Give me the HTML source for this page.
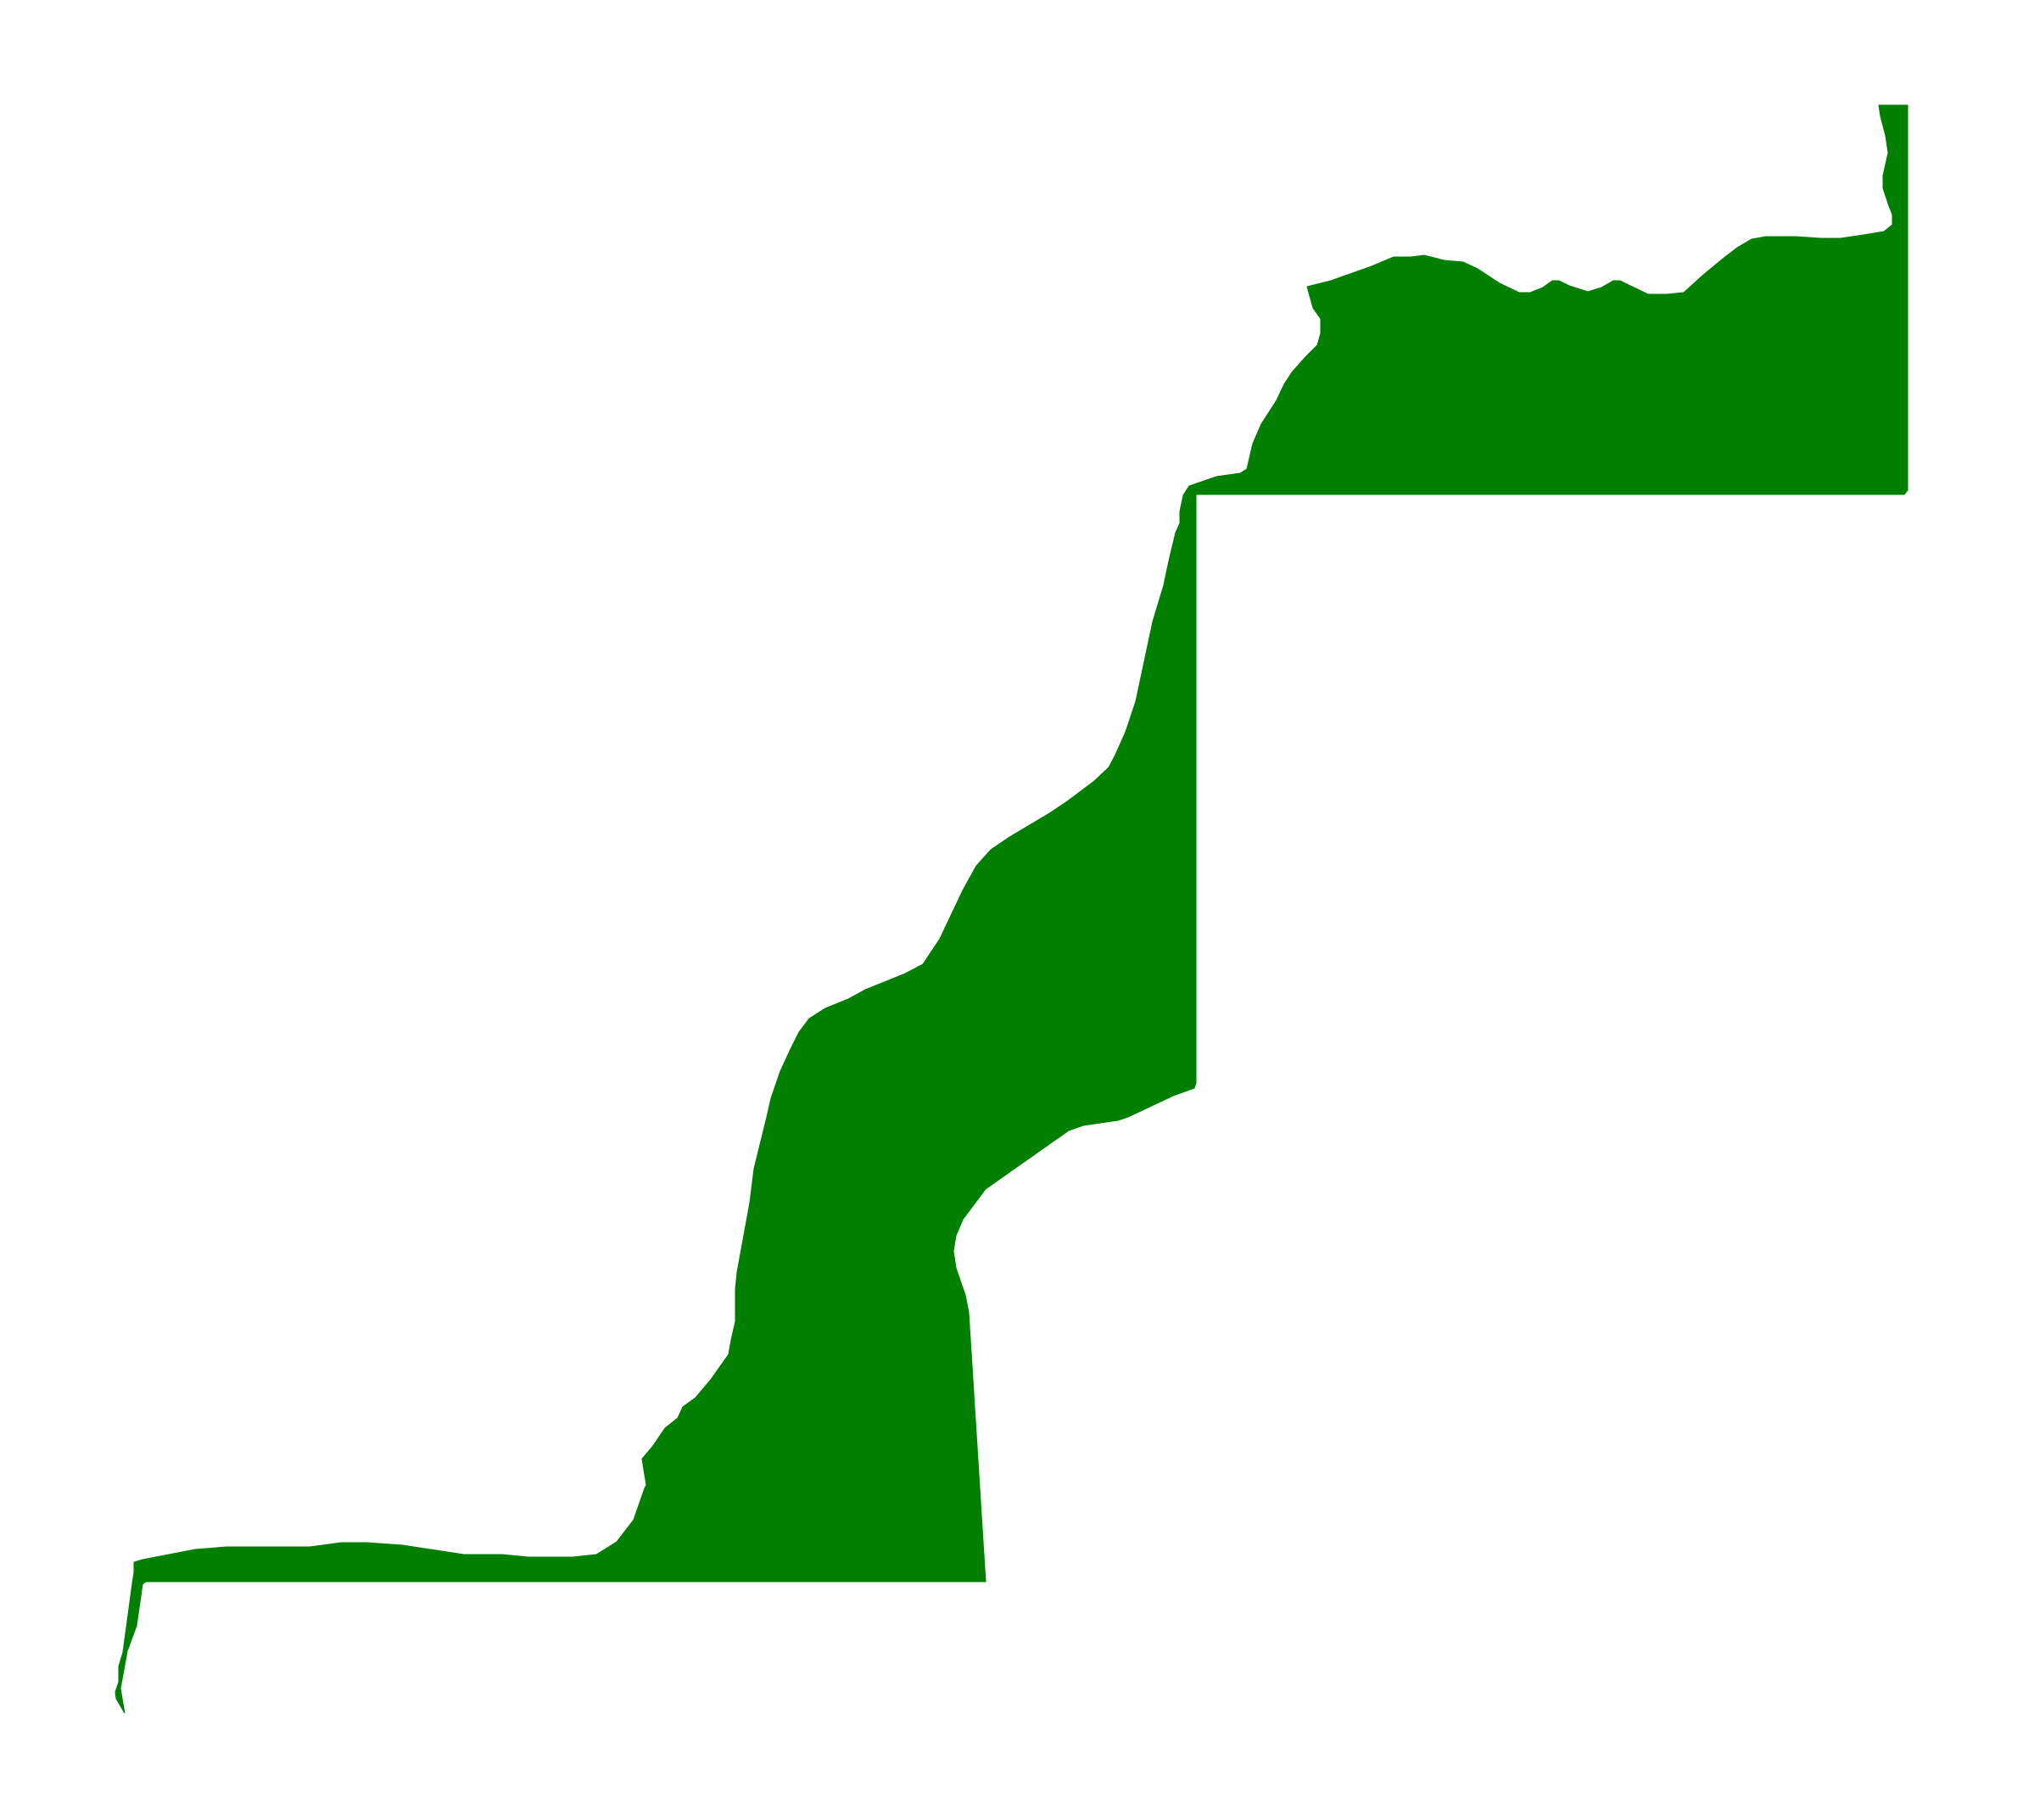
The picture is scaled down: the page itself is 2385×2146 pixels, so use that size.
<!DOCTYPE html>
<html>
<head>
<meta charset="utf-8">
<style>
  html, body { margin: 0; padding: 0; background: #ffffff; }
  #map { display: block; width: 2385px; height: 2146px; }
</style>
</head>
<body>
<svg id="map" width="2385" height="2146" viewBox="0 0 2385 2146" xmlns="http://www.w3.org/2000/svg">
  <rect x="0" y="0" width="2385" height="2146" fill="#ffffff"/>
  <g id="shapes"></g>
</svg>
<script>
// Outline vertices (x, y in page pixels)
const outlineX = [
  1541,1569,1617,1643,1663,1679,1703,1725,1742,1768,1791,1804,1819,1830,1838,1850,1872,1888,1902,1910,1920,1943,1965,1985,2007,2030,2048,2065,2082,2117,2147,2170,2197,2221,2231,2231,2227,2220,2220,2226,2223,2217,2215,
  2249,2249,2245,
  1410,1410,1408,1383,1330,1318,1277,1260,1162,1135,1127,1124,1127,1138,1142,1162,
  172,168,161,150,142,147,137,136,140,140,145,156,158,158,
  168,230,267,365,402,433,475,547,592,623,675,703,727,747,760,762,759,757,769,784,799,805,820,837,859,862,867,867,869,880,884,889,904,909,920,932,942,954,973,1000,1020,1045,1067,1088,1108,1135,
  1151,1168,1190,1237,1258,1290,1307,1315,1327,1339,1359,1372,
  1374,1379,1386,1391,1391,1395,1402,1434,1462,1470,1477,1487,1505,1514,1523,1539,1553,1557,1557,1548
];
const outlineY = [
  338,331,314,303,303,301,307,309,317,334,345,345,339,331,331,337,344,339,331,331,336,347,347,345,325,306,292,282,279,279,281,281,277,273,265,253,243,222,207,180,160,137,124,
  124,578,583,
  583,1277,1283,1292,1317,1321,1327,1333,1402,1438,1457,1475,1495,1527,1547,1865,
  1865,1868,1917,1947,1991,2020,2003,1995,1983,1965,1948,1867,1854,1842,
  1839,1827,1824,1824,1819,1819,1822,1833,1833,1836,1836,1833,1818,1792,1755,1751,1733,1720,1706,1684,1672,1659,1648,1628,1597,1580,1558,1520,1500,1440,1418,1378,1317,1295,1263,1237,1217,1201,1189,1178,1167,1157,1148,1137,1107,1050,
  1021,1002,987,959,945,921,905,890,863,827,733,690,
  680,657,628,617,603,584,573,562,558,553,523,500,472,453,439,421,407,393,376,363
];

const g = document.getElementById('shapes');
let d = '';
for (let i = 0; i < outlineX.length; i++) {
  d += (i === 0 ? 'M' : 'L') + outlineX[i] + ',' + outlineY[i] + ' ';
}
d += 'Z';
const path = document.createElementNS('http://www.w3.org/2000/svg', 'path');
path.setAttribute('d', d);
path.setAttribute('fill', '#007f00');
path.setAttribute('stroke', '#007f00');
path.setAttribute('stroke-width', '1');
path.setAttribute('stroke-linejoin', 'miter');


g.appendChild(path);
</script>
</body>
</html>
